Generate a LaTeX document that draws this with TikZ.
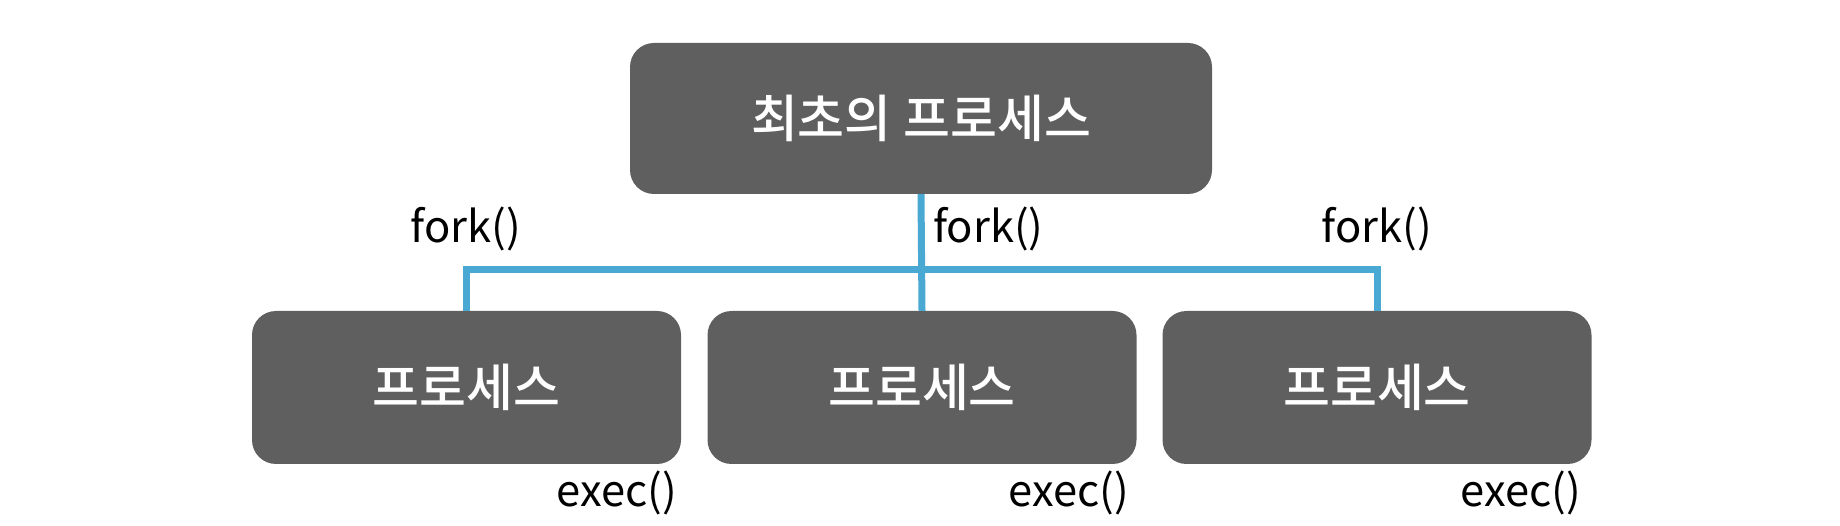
\documentclass[tikz,border=0pt]{standalone}
\usepackage{fontspec}
\newfontfamily\kr{Noto Sans CJK KR}
\newfontfamily\krb{Noto Sans CJK KR Medium}
\definecolor{boxgray}{HTML}{5F5F5F}
\definecolor{linkblue}{HTML}{4AA9D2}
\tikzset{
  procbox/.style={draw=none, fill=boxgray, rounded corners=24pt, inner sep=0pt,
    text=white, font=\krb\fontsize{51pt}{55pt}\selectfont},
  link/.style={draw=linkblue, line width=7pt, line join=miter},
  calllabel/.style={inner sep=0pt, text=black, font=\kr\fontsize{43.5pt}{47pt}\selectfont}
}
\begin{document}
\begin{tikzpicture}[x=1pt,y=-1pt]
\useasboundingbox (0,0) rectangle (1840,526);
\node[procbox, minimum width=582pt, minimum height=151pt] (T) at (921,118.5) {최초의 프로세스};
\node[procbox, minimum width=429pt, minimum height=153pt] (L) at (466.5,387.5) {프로세스};
\node[procbox, minimum width=429pt, minimum height=153pt] (M) at (922,387.5) {프로세스};
\node[procbox, minimum width=429pt, minimum height=153pt] (R) at (1377,387.5) {프로세스};
\coordinate (hub) at (921,270);
\draw[link] (T.south) -- (M.north);
\draw[link] (L.north) |- (hub) -| (R.north);
\node[calllabel] (f1) at (466,229) {fork()};
\node[calllabel, anchor=west] (f2) at (933,229) {fork()};
\node[calllabel] (f3) at (1377,229) {fork()};
\node[calllabel] (e1) at (617,493) {exec()};
\node[calllabel] (e2) at (1069,493) {exec()};
\node[calllabel] (e3) at (1521,493) {exec()};
\end{tikzpicture}
\end{document}
